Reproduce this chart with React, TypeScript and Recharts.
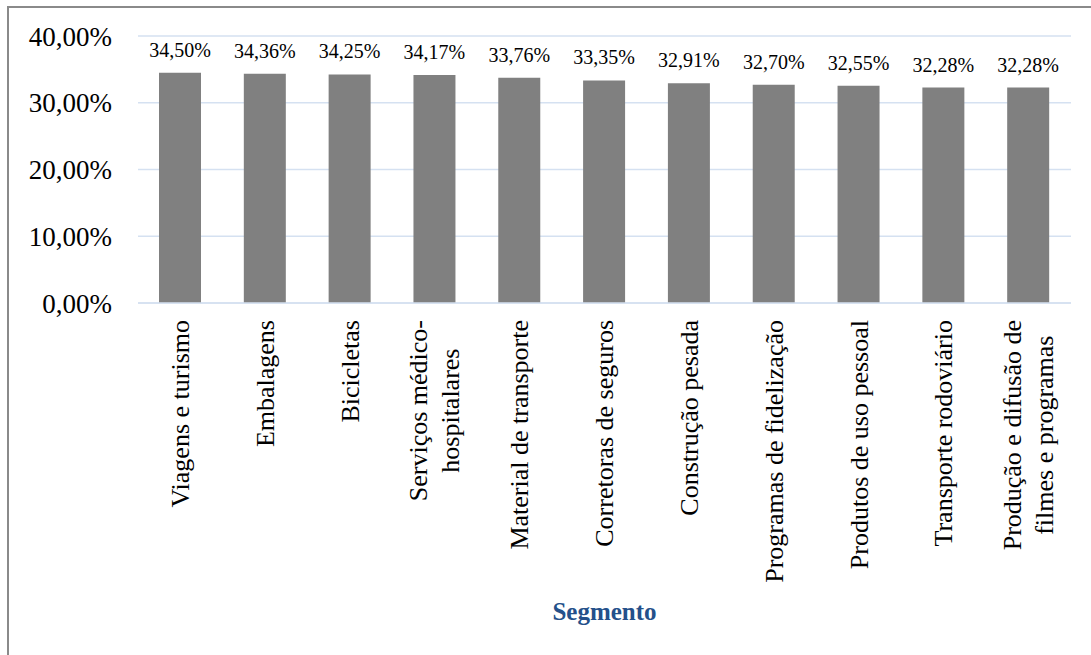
import React from 'react';
import { BarChart, Bar, XAxis, YAxis, CartesianGrid, LabelList } from 'recharts';

const segmentos = [
  'Viagens e turismo',
  'Embalagens',
  'Bicicletas',
  'Serviços médico-\nhospitalares',
  'Material de transporte',
  'Corretoras de seguros',
  'Construção pesada',
  'Programas de fidelização',
  'Produtos de uso pessoal',
  'Transporte rodoviário',
  'Produção e difusão de\nfilmes e programas',
];

const valores = [34.5, 34.36, 34.25, 34.17, 33.76, 33.35, 32.91, 32.7, 32.55, 32.28, 32.28];

const yTicks = [0, 10, 20, 30, 40];

const data = segmentos.map((s, i) => ({ segmento: s, valor: valores[i] }));

const FONT = '"Liberation Serif", "Times New Roman", serif';
const GRID = '#d5e1f1';

const fmt = (v: number) => v.toFixed(2).replace('.', ',') + '%';

let ctx: CanvasRenderingContext2D | null = null;
const measure = (t: string, size: number) => {
  if (!ctx) ctx = document.createElement('canvas').getContext('2d');
  if (!ctx) return t.length * size * 0.45;
  ctx.font = `${size}px ${FONT}`;
  return ctx.measureText(t).width;
};

const CategoryTick = (props: any) => {
  const { x, payload } = props;
  const lines: string[] = String(payload.value).split('\n');
  const size = 26;
  const top = 320;
  if (lines.length === 1) {
    return (
      <text
        x={x}
        y={top}
        transform={`rotate(-90, ${x}, ${top})`}
        textAnchor="end"
        dy="0.33em"
        fontFamily={FONT}
        fontSize={size}
        fill="#000"
      >
        {lines[0]}
      </text>
    );
  }
  const maxLen = Math.max(...lines.map((l) => measure(l, size)));
  const cy = top + maxLen / 2;
  const gap = 32;
  return (
    <g>
      {lines.map((l, i) => {
        const lx = x + (i - (lines.length - 1) / 2) * gap;
        return (
          <text
            key={i}
            x={lx}
            y={cy}
            transform={`rotate(-90, ${lx}, ${cy})`}
            textAnchor="middle"
            dy="0.33em"
            fontFamily={FONT}
            fontSize={size}
            fill="#000"
          >
            {l}
          </text>
        );
      })}
    </g>
  );
};

export default function App() {
  return (
    <div style={{ position: 'absolute', left: 0, top: 0, width: 1091, height: 655, overflow: 'hidden', background: '#fff' }}>
      {/* chart frame: only the left and top edges are visible in the crop */}
      <div style={{ position: 'absolute', left: 7, top: 6, width: 2, height: 660, background: '#8a8a8a' }} />
      <div style={{ position: 'absolute', left: 7, top: 6, width: 1100, height: 2, background: '#8a8a8a' }} />
      <div style={{ position: 'absolute', left: 0, top: 0 }}>
        <BarChart width={1091} height={655} data={data} margin={{ top: 36, right: 20, left: 0, bottom: 0 }}>
          <CartesianGrid vertical={false} stroke={GRID} strokeWidth={1.5} />
          <XAxis
            dataKey="segmento"
            height={352}
            interval={0}
            tickLine={false}
            axisLine={{ stroke: GRID, strokeWidth: 1.5 }}
            tick={<CategoryTick />}
            label={{
              value: 'Segmento',
              position: 'insideBottom',
              offset: 35,
              fill: '#24508a',
              fontSize: 25,
              fontWeight: 'bold',
              fontFamily: FONT,
            }}
          />
          <YAxis
            width={138}
            domain={[0, 40]}
            ticks={yTicks}
            tickFormatter={fmt}
            tickLine={false}
            axisLine={false}
            tickSize={0}
            tickMargin={26}
            tick={{ fontFamily: FONT, fontSize: 27, fill: '#000' }}
          />
          <Bar dataKey="valor" fill="#808080" barSize={42} isAnimationActive={false}>
            <LabelList
              dataKey="valor"
              position="top"
              offset={16}
              formatter={(v: any) => fmt(Number(v))}
              style={{ fontFamily: FONT, fontSize: 20, fill: '#000' }}
            />
          </Bar>
        </BarChart>
      </div>
    </div>
  );
}
